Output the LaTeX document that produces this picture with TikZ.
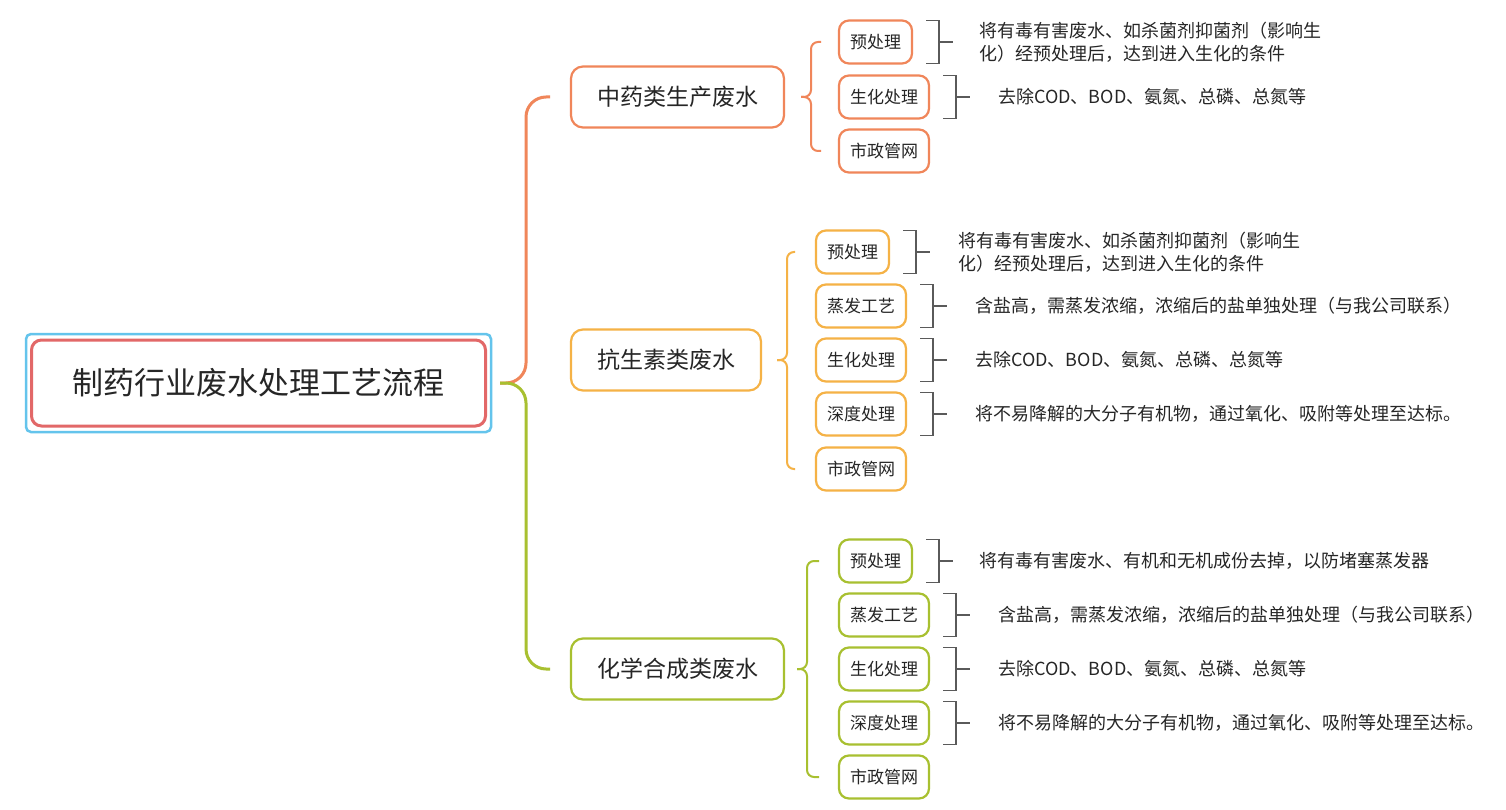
\documentclass[tikz,border=0pt]{standalone}
\usepackage{fontspec}
\setmainfont{Noto Sans CJK SC}
\definecolor{cA}{HTML}{F0865A}
\definecolor{cB}{HTML}{F5B246}
\definecolor{cC}{HTML}{A8C030}
\definecolor{cblue}{HTML}{64C4EC}
\definecolor{cred}{HTML}{E26868}
\definecolor{cgray}{HTML}{5A5A5A}
\definecolor{txt}{HTML}{262626}
\tikzset{
  lone/.style={draw, rounded corners=12, line width=2.2, minimum height=61, inner ysep=0, inner xsep=26, outer sep=0, text=txt, font=\fontsize{23}{23}\selectfont, anchor=west},
  ltwo/.style={draw, rounded corners=10, line width=2.2, minimum height=43, inner ysep=0, inner xsep=11, outer sep=0, text=txt, font=\fontsize{17}{17}\selectfont, anchor=west},
  desc/.style={anchor=west, align=left, inner sep=0, text=txt, font=\fontsize{18}{23}\selectfont},
  mainbrace/.style={line width=3, rounded corners=20},
  subbrace/.style={line width=2, rounded corners=7},
  bracket/.style={draw=cgray, line width=1.8},
}
\newcommand{\bracketto}[1]{%
  \draw[bracket] ([xshift=14]#1.north east) -- ([xshift=27]#1.north east) -- ([xshift=27]#1.south east) -- ([xshift=14]#1.south east);
  \draw[bracket] ([xshift=27]#1.east) -- ([xshift=41]#1.east);
}
\begin{document}
\begin{tikzpicture}[x=1pt,y=-1pt]
\useasboundingbox[fill=white] (0,0) rectangle (1506,810);
% root
\node[draw=cblue, line width=2.5, rounded corners=5, minimum width=465, minimum height=98, inner sep=0, outer sep=0] (rootouter) at (258.5,383) {};
\node[draw=cred, line width=3, rounded corners=10, minimum width=454, minimum height=86, inner sep=0, outer sep=0, text=txt, font=\fontsize{31}{31}\selectfont] (root) at (258.5,383) {制药行业废水处理工艺流程};

% level 1
\node[lone, draw=cA] (g1) at (571,97) {中药类生产废水};
\node[lone, draw=cB] (g2) at (571,360) {抗生素类废水};
\node[lone, draw=cC] (g3) at (571,669) {化学合成类废水};

% main brace
\coordinate (tip) at ([xshift=9]rootouter.east);
\draw[mainbrace, cA] (tip) -- ++(26,0) |- ([xshift=-21]g1.west);
\draw[mainbrace, cC] (tip) -- ++(26,0) |- ([xshift=-21]g3.west);

% group 1
\node[ltwo, draw=cA] (a1) at (839,42) {预处理};
\node[ltwo, draw=cA] (a2) at (839,97) {生化处理};
\node[ltwo, draw=cA] (a3) at (839,151) {市政管网};
\coordinate (ta) at ([xshift=17]g1.east);
\draw[subbrace, cA] (ta) -- ++(10,0) |- ([xshift=-18]a1.west);
\draw[subbrace, cA] (ta) -- ++(10,0) |- ([xshift=-18]a3.west);
\bracketto{a1}
\bracketto{a2}
\node[desc] (da1) at ([xshift=67]a1.east) {将有毒有害废水、如杀菌剂抑菌剂（影响生\\化）经预处理后，达到进入生化的条件};
\node[desc] (da2) at ([xshift=69]a2.east) {去除COD、BOD、氨氮、总磷、总氮等};

% group 2
\node[ltwo, draw=cB] (b1) at (816,252) {预处理};
\node[ltwo, draw=cB] (b2) at (816,306) {蒸发工艺};
\node[ltwo, draw=cB] (b3) at (816,360) {生化处理};
\node[ltwo, draw=cB] (b4) at (816,414) {深度处理};
\node[ltwo, draw=cB] (b5) at (816,469) {市政管网};
\coordinate (tb) at ([xshift=16]g2.east);
\draw[subbrace, cB] (tb) -- ++(10,0) |- ([xshift=-21]b1.west);
\draw[subbrace, cB] (tb) -- ++(10,0) |- ([xshift=-21]b5.west);
\bracketto{b1}
\bracketto{b2}
\bracketto{b3}
\bracketto{b4}
\node[desc] (db1) at ([xshift=69]b1.east) {将有毒有害废水、如杀菌剂抑菌剂（影响生\\化）经预处理后，达到进入生化的条件};
\node[desc] (db2) at ([xshift=69]b2.east) {含盐高，需蒸发浓缩，浓缩后的盐单独处理（与我公司联系）};
\node[desc] (db3) at ([xshift=69]b3.east) {去除COD、BOD、氨氮、总磷、总氮等};
\node[desc] (db4) at ([xshift=69]b4.east) {将不易降解的大分子有机物，通过氧化、吸附等处理至达标。};

% group 3
\node[ltwo, draw=cC] (c1) at (839,561) {预处理};
\node[ltwo, draw=cC] (c2) at (839,615) {蒸发工艺};
\node[ltwo, draw=cC] (c3) at (839,669) {生化处理};
\node[ltwo, draw=cC] (c4) at (839,723) {深度处理};
\node[ltwo, draw=cC] (c5) at (839,777) {市政管网};
\coordinate (tc) at ([xshift=13]g3.east);
\draw[subbrace, cC] (tc) -- ++(10,0) |- ([xshift=-20]c1.west);
\draw[subbrace, cC] (tc) -- ++(10,0) |- ([xshift=-20]c5.west);
\bracketto{c1}
\bracketto{c2}
\bracketto{c3}
\bracketto{c4}
\node[desc] (dc1) at ([xshift=67]c1.east) {将有毒有害废水、有机和无机成份去掉，以防堵塞蒸发器};
\node[desc] (dc2) at ([xshift=69]c2.east) {含盐高，需蒸发浓缩，浓缩后的盐单独处理（与我公司联系）};
\node[desc] (dc3) at ([xshift=69]c3.east) {去除COD、BOD、氨氮、总磷、总氮等};
\node[desc] (dc4) at ([xshift=69]c4.east) {将不易降解的大分子有机物，通过氧化、吸附等处理至达标。};
\end{tikzpicture}
\end{document}
